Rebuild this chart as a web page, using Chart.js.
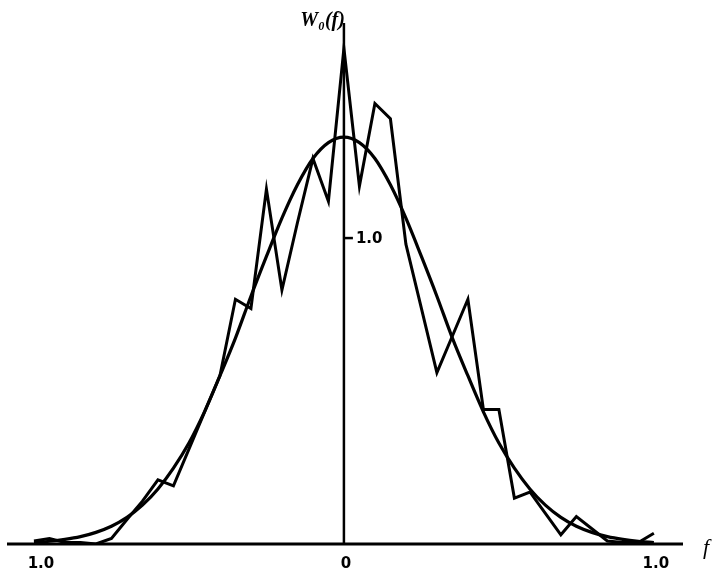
<!DOCTYPE html>
<html>
<head>
<meta charset="utf-8">
<script src="https://cdn.jsdelivr.net/npm/chart.js@4/dist/chart.umd.min.js"></script>
<style>
  html, body { margin: 0; padding: 0; background: #fff; }
  #wrap { width: 715px; height: 572px; }
</style>
</head>
<body>
<div id="wrap"><canvas id="c" width="715" height="572"></canvas></div>
<script>
// Observed (jagged) spectrum estimate, read at f step 0.05
const observedF = [-1.0,-0.95,-0.90,-0.85,-0.80,-0.75,-0.70,-0.65,-0.60,-0.55,-0.50,-0.45,-0.40,-0.35,-0.30,-0.25,-0.20,-0.15,-0.10,-0.05,0,0.05,0.10,0.15,0.20,0.25,0.30,0.35,0.40,0.45,0.50,0.55,0.60,0.65,0.70,0.75,0.80,0.85,0.90,0.95,1.0];
const observedW = [0.01,0.018,0.005,0.005,0.0,0.018,0.08,0.14,0.21,0.19,0.31,0.43,0.55,0.80,0.77,1.16,0.83,1.05,1.26,1.12,1.62,1.17,1.44,1.39,0.98,0.77,0.56,0.68,0.80,0.44,0.44,0.15,0.17,0.10,0.03,0.09,0.05,0.01,0.005,0.005,0.035];

// Smooth (theoretical) curve at f step 0.05
const smoothF = [-1.0,-0.95,-0.90,-0.85,-0.80,-0.75,-0.70,-0.65,-0.60,-0.55,-0.50,-0.45,-0.40,-0.35,-0.30,-0.25,-0.20,-0.15,-0.10,-0.05,0,0.05,0.10,0.15,0.20,0.25,0.30,0.35,0.40,0.45,0.50,0.55,0.60,0.65,0.70,0.75,0.80,0.85,0.90,0.95,1.0];
const smoothW = [0.005,0.009,0.015,0.024,0.038,0.058,0.087,0.127,0.18,0.248,0.33,0.432,0.55,0.673,0.81,0.94,1.065,1.174,1.26,1.312,1.33,1.312,1.26,1.174,1.065,0.94,0.81,0.673,0.55,0.432,0.33,0.248,0.18,0.127,0.087,0.058,0.038,0.024,0.015,0.009,0.005];

// Axis tick labels
const xTickValues = [-1.0, 0, 1.0];
const xTickLabels = ['1.0', '0', '1.0'];
const yTickValues = [1.0];
const yTickLabels = ['1.0'];
const yAxisTitle = 'W\u2080(f)';
const xAxisTitle = 'f';

const toPts = (xs, ys) => xs.map((v, i) => ({ x: v, y: ys[i] }));

const axesPlugin = {
  id: 'axesPlugin',
  afterDatasetsDraw(chart) {
    const { ctx, chartArea, scales } = chart;
    const xs = scales.x, ys = scales.y;
    const x0 = xs.getPixelForValue(0);
    const y0 = ys.getPixelForValue(0);
    ctx.save();
    ctx.strokeStyle = '#000';
    ctx.fillStyle = '#000';
    ctx.lineCap = 'butt';
    // x axis
    ctx.lineWidth = 3;
    ctx.beginPath();
    ctx.moveTo(chartArea.left, y0);
    ctx.lineTo(chartArea.right, y0);
    ctx.stroke();
    // y axis
    ctx.lineWidth = 2.5;
    ctx.beginPath();
    ctx.moveTo(x0, y0);
    ctx.lineTo(x0, chartArea.top);
    ctx.stroke();
    // y tick
    yTickValues.forEach((v, i) => {
      const py = ys.getPixelForValue(v);
      ctx.lineWidth = 2.5;
      ctx.beginPath();
      ctx.moveTo(x0, py);
      ctx.lineTo(x0 + 9, py);
      ctx.stroke();
      ctx.font = 'bold 15px "DejaVu Sans"';
      ctx.textAlign = 'left';
      ctx.textBaseline = 'middle';
      ctx.fillText(yTickLabels[i], x0 + 12, py + 1);
    });
    // x tick labels
    ctx.font = 'bold 15px "DejaVu Sans"';
    ctx.textAlign = 'center';
    ctx.textBaseline = 'alphabetic';
    xTickValues.forEach((v, i) => {
      const px = xs.getPixelForValue(v);
      const dx = v < 0 ? 7 : 2;
      ctx.fillText(xTickLabels[i], px + dx, y0 + 24);
    });
    // axis titles
    ctx.font = 'italic bold 20px "Liberation Serif"';
    ctx.textAlign = 'right';
    ctx.textBaseline = 'alphabetic';
    ctx.fillText(yAxisTitle, x0 + 1, chartArea.top + 3);
    ctx.textAlign = 'left';
    ctx.font = 'italic 22px "Liberation Serif"';
    ctx.fillText(xAxisTitle, chartArea.right + 20, y0 + 10);
    ctx.restore();
  }
};

new Chart(document.getElementById('c'), {
  type: 'scatter',
  data: {
    datasets: [
      {
        label: 'observed',
        data: toPts(observedF, observedW),
        showLine: true,
        borderColor: '#000',
        borderWidth: 3,
        pointRadius: 0,
        tension: 0,
        borderJoinStyle: 'miter',
        fill: false
      },
      {
        label: 'smooth',
        data: toPts(smoothF, smoothW),
        showLine: true,
        borderColor: '#000',
        borderWidth: 3.2,
        pointRadius: 0,
        cubicInterpolationMode: 'monotone',
        fill: false
      }
    ]
  },
  options: {
    responsive: false,
    animation: false,
    layout: { padding: { left: 7, right: 32, top: 23, bottom: 28 } },
    plugins: { legend: { display: false }, tooltip: { enabled: false } },
    scales: {
      x: { type: 'linear', min: -1.087, max: 1.094, display: false },
      y: { type: 'linear', min: 0, max: 1.703, display: false }
    }
  },
  plugins: [axesPlugin]
});
</script>
</body>
</html>
